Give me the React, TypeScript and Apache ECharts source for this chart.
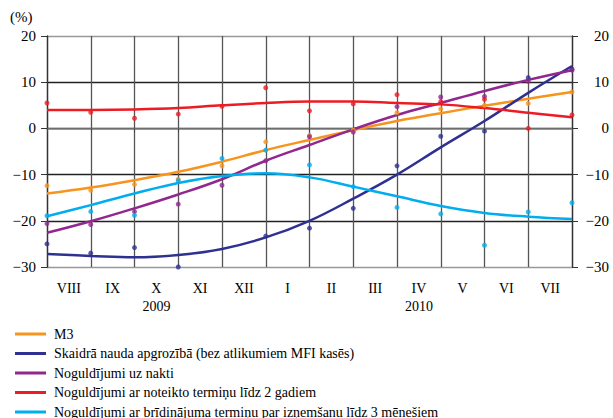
import React, { useEffect, useRef } from "react";
import * as echarts from "echarts";

const months = ["VIII", "IX", "X", "XI", "XII", "I", "II", "III", "IV", "V", "VI", "VII"];
const yearLabels = ["", "", "2009", "", "", "", "", "", "2010", "", "", ""];
const seriesNames = [
  "M3",
  "Skaidrā nauda apgrozībā (bez atlikumiem MFI kasēs)",
  "Noguldījumi uz nakti",
  "Noguldījumi ar noteikto termiņu līdz 2 gadiem",
  "Noguldījumi ar brīdinājuma termiņu par izņemšanu līdz 3 mēnešiem",
];
const colors = ["#F7941D", "#2E3192", "#92278F", "#ED1C24", "#00AEEF"];

// observed points (13 month-ends)
const m3Points = [-12.4, -13.4, -12.1, -11.0, -8.1, -2.9, -1.5, -0.4, 3.4, 4.2, 5.0, 5.4, 7.9];
const cashPoints = [-25.0, -27.0, -25.8, -30.0, -30.2, -23.3, -21.6, -17.3, -8.1, -1.7, -0.6, 11.0, 12.8];
const overnightPoints = [-20.6, -20.8, -18.0, -16.4, -12.3, -7.0, -1.8, -0.8, 4.7, 6.8, 6.9, 10.2, 12.6];
const termPoints = [5.5, 3.5, 2.2, 3.1, 4.8, 8.8, 3.8, 5.3, 7.3, 5.8, 6.3, 0.0, 2.9];
const noticePoints = [-18.9, -18.0, -18.8, -11.3, -6.5, -4.7, -7.9, -12.6, -17.1, -18.5, -25.3, -18.1, -16.1];

// trend lines
const m3Trend = [-14.1, -12.8, -11.2, -9.4, -7.2, -4.7, -2.5, -0.4, 1.6, 3.3, 4.9, 6.4, 7.9];
const cashTrend = [-27.2, -27.6, -27.9, -27.4, -26.1, -23.6, -20.0, -15.2, -10.0, -4.1, 1.6, 7.7, 13.5];
const overnightTrend = [-22.6, -20.1, -17.3, -14.3, -11.0, -7.0, -3.6, -0.2, 2.9, 5.5, 8.1, 10.5, 12.6];
const termTrend = [4.0, 4.0, 4.1, 4.4, 5.0, 5.5, 5.8, 5.8, 5.5, 5.2, 4.4, 3.4, 2.4];
const noticeTrend = [-19.0, -16.6, -14.1, -11.8, -10.3, -9.7, -10.6, -12.6, -14.7, -16.8, -18.3, -19.1, -19.6];

const pointSets = [m3Points, cashPoints, overnightPoints, termPoints, noticePoints];
const trendSets = [m3Trend, cashTrend, overnightTrend, termTrend, noticeTrend];

const FONT = "Liberation Serif";

const fmt = (v: number) => (v < 0 ? "\u2212" + Math.abs(v) : String(v));

export default function App() {
  const ref = useRef<HTMLDivElement>(null);
  useEffect(() => {
    if (!ref.current) return;
    const chart = echarts.init(ref.current, null, { renderer: "svg" });
    const series: any[] = [];
    seriesNames.forEach((name, k) => {
      series.push({
        name,
        type: "line",
        smooth: 0.4,
        showSymbol: false,
        symbol: "none",
        data: trendSets[k].map((v, i) => [i, v]),
        lineStyle: { color: colors[k], width: 2.5 },
        itemStyle: { color: colors[k] },
        z: 3,
      });
      series.push({
        name,
        type: "scatter",
        symbol: "circle",
        symbolSize: 5,
        data: pointSets[k].map((v, i) => [i, v]),
        itemStyle: { color: colors[k] },
        z: 4,
      });
    });
    chart.setOption({
      animation: false,
      backgroundColor: "#fff",
      textStyle: { fontFamily: FONT },
      grid: { left: 47, right: 41, top: 36, bottom: 151 },
      legend: {
        orient: "vertical",
        left: 10,
        top: 322,
        height: 120,
        itemWidth: 31,
        itemHeight: 3,
        itemGap: 5.5,
        selectedMode: false,
        textStyle: { fontFamily: FONT, fontSize: 14, color: "#000", lineHeight: 14, padding: [0, 0, 0, 3] },
        data: seriesNames.map((n) => ({ name: n, icon: "rect" })),
      },
      xAxis: [
        {
          type: "value",
          min: 0,
          max: 12,
          interval: 1,
          axisLine: { show: true, lineStyle: { color: "#888", width: 1.5 } },
          axisTick: { show: true, inside: false, length: 4, lineStyle: { color: "#444" } },
          axisLabel: { show: false },
          splitLine: { show: true, lineStyle: { color: "#555", width: 1.3 } },
        },
        {
          type: "category",
          data: months,
          boundaryGap: true,
          position: "bottom",
          axisLine: { show: false },
          axisTick: { show: false },
          splitLine: { show: false },
          axisLabel: { interval: 0, margin: 14, fontSize: 14, color: "#000", fontFamily: FONT },
        },
        {
          type: "category",
          data: yearLabels,
          boundaryGap: true,
          position: "bottom",
          offset: 18,
          axisLine: { show: false },
          axisTick: { show: false },
          splitLine: { show: false },
          axisLabel: { interval: 0, margin: 14, fontSize: 14, color: "#000", fontFamily: FONT },
        },
      ],
      yAxis: [
        {
          type: "value",
          min: -30,
          max: 20,
          interval: 10,
          position: "left",
          axisLine: { show: true, lineStyle: { color: "#333", width: 1.3 } },
          axisTick: { show: true, length: 6, lineStyle: { color: "#333" } },
          axisLabel: { margin: 11, fontSize: 15, color: "#000", fontFamily: FONT, formatter: fmt },
          splitLine: {
            show: true,
            lineStyle: { color: ["#999", "#222", "#222", "#222", "#222", "#999"], width: 1.3 },
          },
        },
        {
          type: "value",
          min: -30,
          max: 20,
          interval: 10,
          position: "right",
          axisLine: { show: true, lineStyle: { color: "#333", width: 1.3 } },
          axisTick: { show: true, length: 6, lineStyle: { color: "#333" } },
          axisLabel: { margin: 37, align: "right", fontSize: 15, color: "#000", fontFamily: FONT, formatter: fmt },
          splitLine: { show: false },
        },
      ],
      graphic: [
        {
          type: "text",
          left: 10,
          top: 9,
          style: { text: "(%)", font: `15px "${FONT}"`, fill: "#000" },
        },
      ],
      series,
    });
    return () => chart.dispose();
  }, []);
  return (
    <div
      ref={ref}
      style={{ position: "fixed", left: 0, top: 0, width: 613, height: 418 }}
    />
  );
}
